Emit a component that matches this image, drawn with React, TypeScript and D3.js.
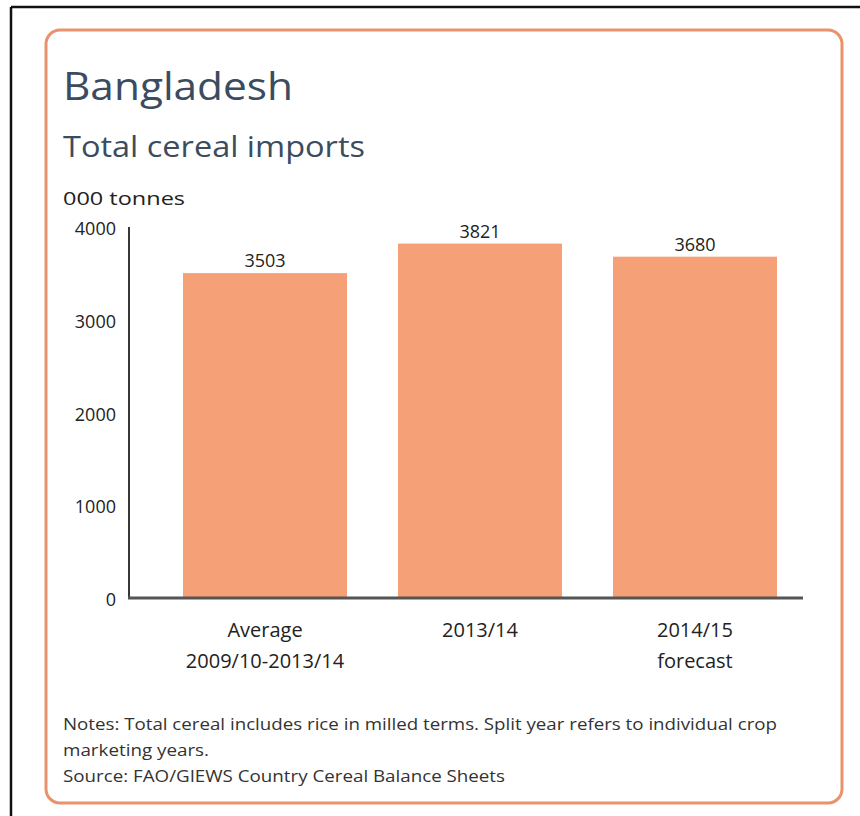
import React from "react";
import * as d3 from "d3";

const categories: string[][] = [
  ["Average", "2009/10-2013/14"],
  ["2013/14"],
  ["2014/15", "forecast"],
];
const values: number[] = [3503, 3821, 3680];
const yTicks: number[] = [0, 1000, 2000, 3000, 4000];
const title = "Bangladesh";
const subtitle = "Total cereal imports";
const unitLabel = "000 tonnes";
const notes: string[] = [
  "Notes: Total cereal includes rice in milled terms. Split year refers to individual crop",
  "marketing years.",
  "Source: FAO/GIEWS Country Cereal Balance Sheets",
];

const W = 860;
const H = 816;
const BAR = "#F6A077";
const BORDER = "#E8936C";
const TITLE = "#3B4B60";
const TEXT = "#222";
const FONT = "'Open Sans', 'Noto Sans', sans-serif";

export default function App() {
  const y = d3.scaleLinear().domain([0, 4000]).range([598, 227]);
  const x = d3
    .scaleBand<number>()
    .domain(values.map((_, i) => i))
    .range([183, 777])
    .paddingInner(0.237)
    .paddingOuter(0);

  return (
    <svg
      width={W}
      height={H}
      style={{ position: "absolute", left: 0, top: 0, background: "#fff" }}
    >
      <rect x={0} y={0} width={W} height={H} fill="#fff" />
      {/* outer black frame */}
      <line x1={11} y1={7} x2={W} y2={7} stroke="#111" strokeWidth={2.5} />
      <line x1={11} y1={7} x2={11} y2={H} stroke="#111" strokeWidth={2.5} />
      {/* orange rounded panel */}
      <rect
        x={46}
        y={30}
        width={796}
        height={773}
        rx={14}
        ry={14}
        fill="#fff"
        stroke={BORDER}
        strokeWidth={3}
      />
      <text x={63} y={100} fill={TITLE} fontFamily={FONT} fontSize={38} textLength={230} lengthAdjust="spacingAndGlyphs">
        {title}
      </text>
      <text x={63} y={157} fill={TITLE} fontFamily={FONT} fontSize={29} textLength={302} lengthAdjust="spacingAndGlyphs">
        {subtitle}
      </text>
      <text x={63} y={205} fill={TEXT} fontFamily={FONT} fontSize={18} textLength={122} lengthAdjust="spacingAndGlyphs">
        {unitLabel}
      </text>

      {/* y tick labels */}
      {yTicks.map((t) => (
        <text
          key={t}
          x={116}
          y={y(t) + 8}
          textAnchor="end"
          fill={TEXT}
          fontFamily={FONT}
          fontSize={18}
        >
          {t}
        </text>
      ))}

      {/* bars */}
      {values.map((v, i) => (
        <rect
          key={i}
          x={x(i)}
          y={y(v)}
          width={x.bandwidth()}
          height={y(0) - y(v)}
          fill={BAR}
        />
      ))}
      {values.map((v, i) => (
        <text
          key={"v" + i}
          x={(x(i) as number) + x.bandwidth() / 2}
          y={y(v) - 6}
          textAnchor="middle"
          fill={TEXT}
          fontFamily={FONT}
          fontSize={18}
        >
          {v}
        </text>
      ))}

      {/* axes */}
      <line x1={129} y1={y(4000)} x2={129} y2={y(0)} stroke="#222" strokeWidth={1.8} />
      <line x1={128} y1={y(0)} x2={803} y2={y(0)} stroke="#555" strokeWidth={3} />

      {/* category labels */}
      {categories.map((lines, i) =>
        lines.map((l, j) => (
          <text
            key={i + "-" + j}
            x={(x(i) as number) + x.bandwidth() / 2}
            y={637 + j * 31}
            textAnchor="middle"
            fill={TEXT}
            fontFamily={FONT}
            fontSize={20}
          >
            {l}
          </text>
        ))
      )}

      {/* notes */}
      {notes.map((n, i) => (
        <text
          key={"n" + i}
          x={63}
          y={730 + i * 26}
          fill="#333"
          fontFamily={FONT}
          fontSize={16}
          textLength={i === 0 ? 714 : i === 1 ? 146 : 442}
          lengthAdjust="spacingAndGlyphs"
        >
          {n}
        </text>
      ))}
    </svg>
  );
}
